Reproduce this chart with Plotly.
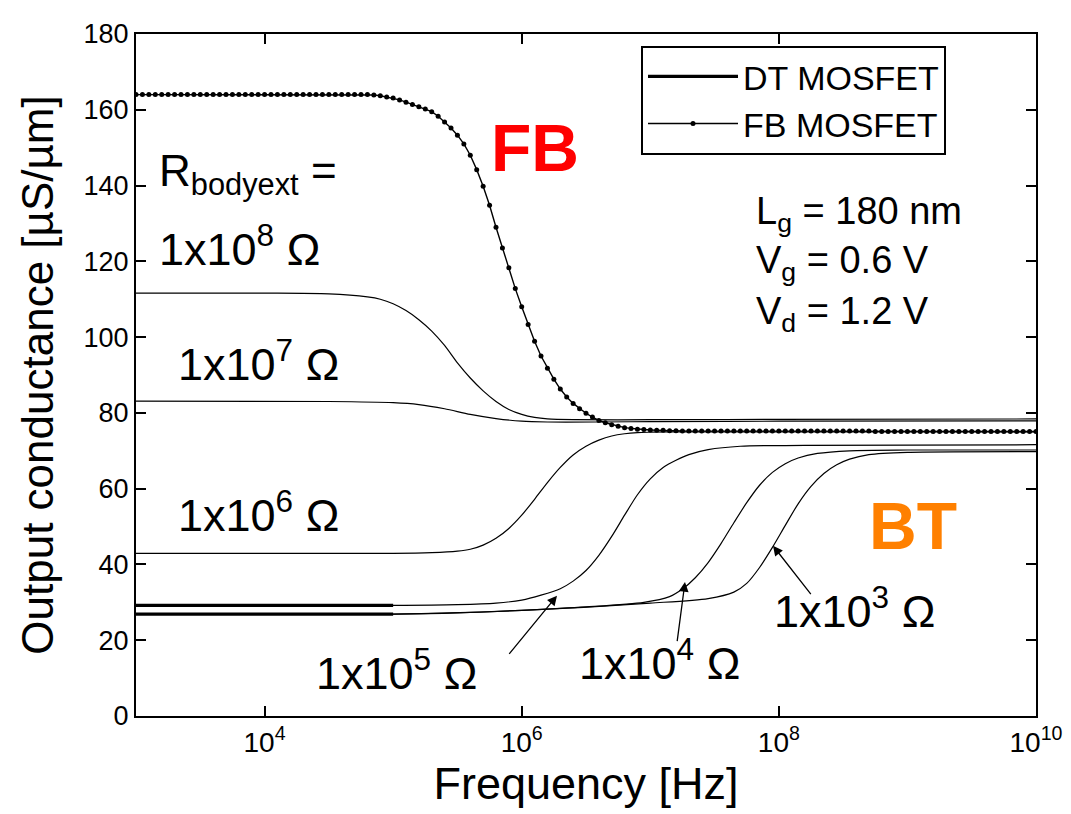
import plotly.graph_objects as go

# ---------------- data (log10 of frequency in Hz, conductance in uS/um) ----------------
fb_exp = [3.00, 3.05, 3.10, 3.15, 3.20, 3.25, 3.30, 3.35, 3.40, 3.45, 3.50, 3.55, 3.60, 3.65, 3.70, 3.75,
          3.80, 3.85, 3.90, 3.95, 4.00, 4.05, 4.10, 4.15, 4.20, 4.25, 4.30, 4.35, 4.40, 4.45, 4.50, 4.55,
          4.60, 4.65, 4.70, 4.75, 4.80, 4.85, 4.90, 4.95, 5.00, 5.05, 5.10, 5.15, 5.20, 5.25, 5.30, 5.35,
          5.40, 5.45, 5.50, 5.55, 5.60, 5.65, 5.70, 5.75, 5.80, 5.85, 5.90, 5.95, 6.00, 6.05, 6.10, 6.15,
          6.20, 6.25, 6.30, 6.35, 6.40, 6.45, 6.50, 6.55, 6.60, 6.65, 6.70, 6.75, 6.80, 6.85, 6.90, 6.95,
          7.00, 7.05, 7.10, 7.15, 7.20, 7.25, 7.30, 7.35, 7.40, 7.45, 7.50, 7.55, 7.60, 7.65, 7.70, 7.75,
          7.80, 7.85, 7.90, 7.95, 8.00, 8.05, 8.10, 8.15, 8.20, 8.25, 8.30, 8.35, 8.40, 8.45, 8.50, 8.55,
          8.60, 8.65, 8.70, 8.75, 8.80, 8.85, 8.90, 8.95, 9.00, 9.05, 9.10, 9.15, 9.20, 9.25, 9.30, 9.35,
          9.40, 9.45, 9.50, 9.55, 9.60, 9.65, 9.70, 9.75, 9.80, 9.85, 9.90, 9.95, 10.00]
fb_gout = [164.0, 164.0, 164.0, 164.0, 164.0, 164.0, 164.0, 164.0, 164.0, 164.0, 164.0, 164.0, 164.0,
           164.0, 164.0, 164.0, 164.0, 164.0, 164.0, 164.0, 164.0, 164.0, 164.0, 164.0, 164.0, 164.0,
           164.0, 164.0, 164.0, 164.0, 164.0, 164.0, 164.0, 164.0, 164.0, 164.0, 164.0,
           163.9, 163.7, 163.4, 163.1, 162.6, 162.0, 161.4, 160.8, 160.2, 159.5, 158.3, 156.8, 155.2,
           153.3, 151.0, 148.0, 144.2, 139.8, 134.8, 129.0, 123.5, 118.3, 112.8, 108.0, 103.3, 98.9,
           95.0, 91.8, 88.9, 86.3, 84.2, 82.5, 81.1, 79.9, 78.9, 78.0, 77.4, 76.9, 76.5, 76.1, 75.9,
           75.7, 75.6, 75.5, 75.4, 75.4, 75.3, 75.3,
           75.2, 75.2, 75.2, 75.2, 75.2, 75.2, 75.2, 75.2, 75.2, 75.2, 75.2, 75.2, 75.2, 75.2, 75.2,
           75.2, 75.2, 75.2, 75.2, 75.2, 75.2, 75.2, 75.2, 75.2, 75.2, 75.2, 75.2, 75.2, 75.2, 75.2,
           75.1, 75.1, 75.1, 75.1, 75.1, 75.1, 75.1, 75.1, 75.1, 75.1, 75.1, 75.1, 75.1, 75.1, 75.1,
           75.1, 75.1, 75.1, 75.1, 75.1, 75.1, 75.1, 75.1, 75.1, 75.1, 75.1]

r1e8_exp = [3.0, 4.0, 4.5, 4.8, 4.9, 5.0, 5.1, 5.2, 5.3, 5.4, 5.5, 5.6, 5.7, 5.8, 5.9, 6.0, 6.1, 6.2, 6.4, 7.0, 8.0, 10.0]
r1e8_gout = [111.6, 111.6, 111.4, 110.6, 110.0, 108.8, 107.0, 104.6, 101.6, 97.8, 93.2, 89.2, 85.8, 83.0,
             80.9, 79.6, 78.8, 78.4, 78.2, 78.2, 78.3, 78.4]

r1e7_exp = [3.0, 4.5, 5.0, 5.2, 5.4, 5.6, 5.8, 6.0, 6.2, 6.6, 7.0, 8.0, 10.0]
r1e7_gout = [83.1, 83.0, 82.7, 82.2, 81.1, 79.6, 78.5, 77.8, 77.6, 77.6, 77.7, 77.8, 77.9]

r1e6_exp = [3.0, 5.0, 5.3, 5.5, 5.6, 5.7, 5.8, 5.9, 6.0, 6.1, 6.2, 6.3, 6.4, 6.5, 6.6, 6.7, 6.8, 6.9, 7.0, 7.2, 8.0, 10.0]
r1e6_gout = [42.9, 42.9, 43.1, 43.5, 44.0, 45.1, 46.9, 49.5, 53.0, 57.2, 61.6, 65.6, 68.9, 71.2, 72.8,
             73.9, 74.5, 74.8, 74.9, 75.0, 75.0, 75.0]

r1e5_exp = [3.0, 5.0, 5.5, 5.8, 6.0, 6.15, 6.3, 6.4, 6.5, 6.6, 6.7, 6.8, 6.9, 7.0, 7.1, 7.2, 7.3, 7.45, 7.7, 8.2, 10.0]
r1e5_gout = [29.2, 29.2, 29.4, 29.8, 30.6, 31.9, 33.6, 35.6, 38.4, 42.4, 47.4, 53.0, 58.4, 62.6, 65.6,
             67.5, 69.0, 70.3, 71.2, 71.4, 71.6]

r1e4_exp = [3.0, 5.0, 5.5, 6.0, 6.5, 6.95, 7.15, 7.25, 7.35, 7.45, 7.55, 7.65, 7.75, 7.85, 7.95, 8.05, 8.15, 8.3,
            8.55, 9.0, 10.0]
r1e4_gout = [26.9, 26.9, 27.2, 27.9, 28.8, 30.0, 31.5, 33.5, 36.5, 40.5, 45.5, 51.0, 56.3, 60.9, 64.3,
             66.6, 68.1, 69.3, 70.0, 70.2, 70.2]

r1e3_exp = [3.0, 5.0, 6.0, 7.0, 7.45, 7.65, 7.75, 7.85, 7.95, 8.05, 8.15, 8.25, 8.35, 8.45, 8.55, 8.7, 9.0, 10.0]
r1e3_gout = [26.9, 26.9, 27.9, 29.8, 31.0, 32.7, 35.0, 39.2, 44.5, 50.3, 56.0, 60.6, 64.0, 66.3, 67.8,
             69.0, 69.6, 69.8]

dt_exp = [3.0, 5.0]
dt_upper_gout = [29.2, 29.2]
dt_lower_gout = [26.9, 26.9]

x_tick_exp = [4, 6, 8, 10]
x_tick_text = ["10<sup>4</sup>", "10<sup>6</sup>", "10<sup>8</sup>", "10<sup>10</sup>"]
y_ticks = [0, 20, 40, 60, 80, 100, 120, 140, 160, 180]

FONT = "Liberation Sans, Arial, Helvetica, sans-serif"


def freq(exps):
    return [10 ** e for e in exps]


fig = go.Figure()

thin = dict(color="black", width=1.2)
for exps, vals in [(r1e8_exp, r1e8_gout), (r1e7_exp, r1e7_gout), (r1e6_exp, r1e6_gout),
                   (r1e5_exp, r1e5_gout), (r1e4_exp, r1e4_gout), (r1e3_exp, r1e3_gout)]:
    fig.add_trace(go.Scatter(x=freq(exps), y=vals, mode="lines", line=dict(shape="spline", smoothing=0.8, **thin),
                             showlegend=False, hoverinfo="skip"))

fig.add_trace(go.Scatter(x=freq(dt_exp) + [None] + freq(dt_exp), y=dt_upper_gout + [None] + dt_lower_gout,
                         mode="lines", line=dict(color="black", width=3.2), name="DT MOSFET"))
fig.add_trace(go.Scatter(x=freq(fb_exp), y=fb_gout, mode="lines+markers", name="FB MOSFET",
                         line=dict(color="black", width=1.4), marker=dict(color="black", size=5)))

# ---------------- layout ----------------
# plot area in screenshot pixels (page adds ~7 px offset)
L, R, T, B = 135, 1035, 18, 715
OFF = 7


def px2x(px):
    return 3 + (px - L) * 7.0 / (R - L)


def py2y(py):
    return (B - py) * 180.0 / (B - T)


ann = []


def text(px, py, s, size, color="black", anchor="left", bold=False):
    ann.append(dict(x=px2x(px), y=py2y(py), xref="x", yref="y", text=("<b>%s</b>" % s) if bold else s,
                    showarrow=False, xanchor=anchor, yanchor="middle",
                    font=dict(family=FONT, size=size, color=color)))


def arrow(tip, tail):
    ann.append(dict(x=px2x(tip[0]), y=py2y(tip[1]), ax=px2x(tail[0]), ay=py2y(tail[1]), xref="x", yref="y",
                    axref="x", ayref="y", text="", showarrow=True, arrowhead=2, arrowsize=1.5,
                    arrowwidth=1.3, arrowcolor="black"))


text(534, 134, "FB", 66, color="#ff0000", anchor="center", bold=True)
text(912, 521, "BT", 66, color="#ff8000", anchor="center", bold=True)
text(156, 161, "R<sub>bodyext</sub> =", 44)
text(156, 235, "1x10<sup>8</sup> Ω", 45)
text(175, 352, "1x10<sup>7</sup> Ω", 45)
text(175, 506, "1x10<sup>6</sup> Ω", 45)
text(313, 668, "1x10<sup>5</sup> Ω", 45)
text(576, 658, "1x10<sup>4</sup> Ω", 45)
text(771, 605, "1x10<sup>3</sup> Ω", 45)
text(753, 202, "L<sub>g</sub> = 180 nm", 38)
text(753, 252, "V<sub>g</sub> = 0.6 V", 38)
text(753, 304, "V<sub>d</sub> = 1.2 V", 38)
arrow((556, 592), (507, 653))
arrow((684, 578), (676, 640))
arrow((772, 541), (811, 592))

fig.update_layout(
    width=1071, height=814,
    margin=dict(l=L - OFF, r=1071 - R + OFF, t=T - OFF, b=814 - B + OFF),
    paper_bgcolor="white", plot_bgcolor="white",
    font=dict(family=FONT, color="black"),
    annotations=ann,
    legend=dict(x=(640 - L) / (R - L), y=(B - 30) / (B - T), xanchor="left", yanchor="top",
                bgcolor="white", bordercolor="black", borderwidth=2,
                font=dict(family=FONT, size=34, color="black"), itemwidth=90, tracegroupgap=0),
)
fig.update_xaxes(type="log", range=[3, 10], tickvals=[10 ** e for e in x_tick_exp], ticktext=x_tick_text,
                 ticks="inside", ticklen=10, tickwidth=1.5, tickcolor="black", showline=True, linewidth=2,
                 linecolor="black", mirror="allticks", showgrid=False, zeroline=False,
                 ticklabeloverflow="allow",
                 tickfont=dict(family=FONT, size=28, color="black"),
                 title=dict(text="Frequency [Hz]", font=dict(family=FONT, size=45, color="black"), standoff=10))
fig.update_yaxes(range=[0, 180], tickvals=y_ticks, ticks="inside", ticklen=10, tickwidth=1.5, tickcolor="black",
                 showline=True, linewidth=2, linecolor="black", mirror="allticks", showgrid=False, zeroline=False,
                 ticklabeloverflow="allow",
                 tickfont=dict(family=FONT, size=27, color="black"),
                 title=dict(text="Output conductance [µS/µm]", font=dict(family=FONT, size=44, color="black"),
                            standoff=16))

fig.write_html("out.html")
